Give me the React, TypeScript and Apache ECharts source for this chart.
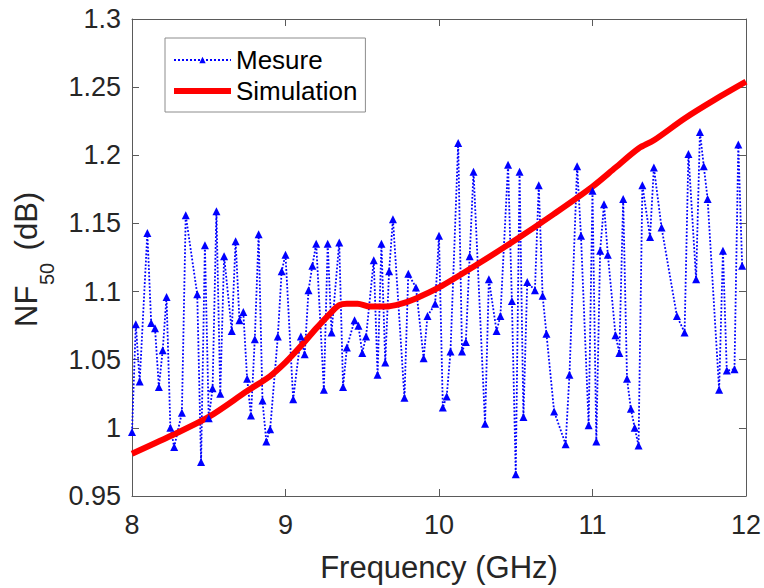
import React, { useEffect, useRef } from "react";
import * as echarts from "echarts";

const freqMeasure = [
  8.0, 8.025, 8.05, 8.1, 8.125, 8.15, 8.175, 8.2, 8.225, 8.25, 8.275, 8.325, 8.35, 8.425, 8.45, 8.475, 8.5,
  8.525, 8.55, 8.575, 8.6, 8.65, 8.675, 8.7, 8.725, 8.75, 8.775, 8.8, 8.825, 8.85, 8.875, 8.9, 8.95, 8.975,
  9.0, 9.05, 9.1, 9.125, 9.15, 9.175, 9.2, 9.25, 9.275, 9.3, 9.35, 9.375, 9.4, 9.45, 9.475, 9.5, 9.525,
  9.575, 9.6, 9.625, 9.65, 9.675, 9.7, 9.775, 9.8, 9.85, 9.9, 9.925, 9.975, 10.0, 10.025, 10.05, 10.075,
  10.125, 10.15, 10.175, 10.2, 10.225, 10.3, 10.325, 10.375, 10.4, 10.45, 10.475, 10.5, 10.525, 10.55,
  10.575, 10.625, 10.65, 10.675, 10.7, 10.75, 10.825, 10.85, 10.9, 10.925, 10.975, 11.0, 11.025, 11.05,
  11.075, 11.1, 11.15, 11.175, 11.2, 11.225, 11.25, 11.275, 11.3, 11.325, 11.375, 11.4, 11.45, 11.55, 11.6,
  11.625, 11.675, 11.7, 11.725, 11.75, 11.825, 11.85, 11.875, 11.925, 11.95, 11.975,
];
const nfMeasure = [
  0.997, 1.076, 1.034, 1.143, 1.077, 1.073, 1.03, 1.057, 1.096, 1.0, 0.986, 1.011, 1.156, 1.098, 0.975, 1.134,
  1.007, 1.029, 1.159, 1.025, 1.126, 1.071, 1.137, 1.079, 1.085, 1.036, 1.009, 1.065, 1.142, 1.02, 0.99, 0.999,
  1.067, 1.115, 1.127, 1.021, 1.067, 1.054, 1.101, 1.119, 1.135, 1.028, 1.135, 1.07, 1.136, 1.03, 1.059, 1.079,
  1.075, 1.055, 1.067, 1.123, 1.039, 1.135, 1.048, 1.115, 1.153, 1.022, 1.113, 1.103, 1.051, 1.082, 1.091,
  1.141, 1.015, 1.023, 1.056, 1.209, 1.056, 1.063, 1.126, 1.188, 1.003, 1.109, 1.071, 1.082, 1.193, 1.093,
  0.966, 1.188, 1.008, 1.107, 1.101, 1.178, 1.097, 1.069, 1.012, 0.988, 1.039, 1.192, 1.141, 1.002, 1.174,
  0.99, 1.13, 1.164, 1.127, 1.068, 1.055, 1.168, 1.036, 1.014, 1.0, 0.987, 1.178, 1.14, 1.191, 1.147, 1.082,
  1.07, 1.201, 1.109, 1.217, 1.192, 1.168, 1.028, 1.13, 1.042, 1.043, 1.208, 1.119,
];

const freqSim = [
  8.0, 8.25, 8.5, 8.75, 8.9, 9.0, 9.1, 9.2, 9.3, 9.35, 9.4, 9.47, 9.55, 9.65, 9.75, 9.85, 10.0, 10.25, 10.5,
  10.75, 11.0, 11.15, 11.3, 11.4, 11.6, 11.8, 12.0,
];
const nfSim = [
  0.981, 0.994, 1.008, 1.027, 1.038, 1.048, 1.06, 1.073, 1.085, 1.09, 1.091, 1.091, 1.089, 1.089, 1.091, 1.095,
  1.103, 1.12, 1.138, 1.157, 1.177, 1.191, 1.205, 1.211, 1.227, 1.241, 1.254,
];

const xTicks = { min: 8, max: 12, interval: 1 };
const yTicks = { min: 0.95, max: 1.3, interval: 0.05 };

const FONT = "'Liberation Sans', Arial, sans-serif";
const AXIS_COLOR = "#5a5a5a";
const LABEL_COLOR = "#262626";

export default function App() {
  const ref = useRef<HTMLDivElement>(null);
  useEffect(() => {
    document.body.style.margin = "0";
    const chart = echarts.init(ref.current!, null, { renderer: "svg" });
    const fmt = (v: number) => String(Math.round(v * 100) / 100);
    const baseAxisLine = { show: true, lineStyle: { color: AXIS_COLOR, width: 1 } };
    chart.setOption({
      animation: false,
      backgroundColor: "#fff",
      grid: { left: 132, right: 17, top: 19, bottom: 89 },
      legend: {
        left: 165,
        top: 38,
        orient: "vertical",
        padding: [9, 8, 8, 8],
        itemGap: 5,
        itemWidth: 57,
        itemHeight: 8,
        borderColor: "#8c8c8c",
        borderWidth: 1,
        backgroundColor: "#fff",
        textStyle: { fontSize: 26, fontFamily: FONT, color: "#000" },
        data: [
          { name: "Mesure" },
          { name: "Simulation", icon: "path://M0 0H57V6H0Z", itemStyle: { color: "#ff0000" } },
        ],
      },
      xAxis: [
        {
          type: "value",
          ...xTicks,
          position: "bottom",
          name: "Frequency (GHz)",
          nameLocation: "middle",
          nameGap: 56,
          nameTextStyle: { fontSize: 31, fontFamily: FONT, color: LABEL_COLOR },
          axisLine: baseAxisLine,
          axisTick: { show: true, inside: true, length: 7, lineStyle: { color: AXIS_COLOR } },
          axisLabel: { fontSize: 27, fontFamily: FONT, color: LABEL_COLOR, margin: 15, formatter: fmt },
          splitLine: { show: false },
        },
        {
          type: "value",
          ...xTicks,
          position: "top",
          axisLine: baseAxisLine,
          axisTick: { show: true, inside: true, length: 7, lineStyle: { color: AXIS_COLOR } },
          axisLabel: { show: false },
          splitLine: { show: false },
        },
      ],
      yAxis: [
        {
          type: "value",
          ...yTicks,
          position: "left",
          axisLine: baseAxisLine,
          axisTick: { show: true, inside: true, length: 7, lineStyle: { color: AXIS_COLOR } },
          axisLabel: { fontSize: 27, fontFamily: FONT, color: LABEL_COLOR, margin: 11, formatter: fmt },
          splitLine: { show: false },
        },
        {
          type: "value",
          ...yTicks,
          position: "right",
          axisLine: baseAxisLine,
          axisTick: { show: true, inside: true, length: 7, lineStyle: { color: AXIS_COLOR } },
          axisLabel: { show: false },
          splitLine: { show: false },
        },
      ],
      graphic: [
        {
          type: "group",
          x: 26,
          y: 327,
          rotation: Math.PI / 2,
          children: [
            {
              type: "text",
              x: 0,
              y: 0,
              style: { text: "NF", fontSize: 31, fontFamily: FONT, fill: LABEL_COLOR, align: "left", verticalAlign: "middle" },
            },
            {
              type: "text",
              x: 42,
              y: 21,
              style: { text: "50", fontSize: 20, fontFamily: FONT, fill: LABEL_COLOR, align: "left", verticalAlign: "middle" },
            },
            {
              type: "text",
              x: 68,
              y: 0,
              style: { text: " (dB)", fontSize: 31, fontFamily: FONT, fill: LABEL_COLOR, align: "left", verticalAlign: "middle" },
            },
          ],
        },
      ],
      series: [
        {
          name: "Mesure",
          type: "line",
          xAxisIndex: 0,
          yAxisIndex: 0,
          data: freqMeasure.map((f, i) => [f, nfMeasure[i]]),
          symbol: "triangle",
          symbolSize: 8,
          showAllSymbol: true,
          itemStyle: { color: "#0000ff" },
          lineStyle: { color: "#0000ff", width: 1.8, type: "dotted" },
        },
        {
          name: "Simulation",
          type: "line",
          xAxisIndex: 0,
          yAxisIndex: 0,
          data: freqSim.map((f, i) => [f, nfSim[i]]),
          symbol: "none",
          smooth: 0.3,
          itemStyle: { color: "#ff0000" },
          lineStyle: { color: "#ff0000", width: 6 },
        },
      ],
    });
    return () => chart.dispose();
  }, []);
  return <div ref={ref} style={{ width: 764, height: 588 }} />;
}
